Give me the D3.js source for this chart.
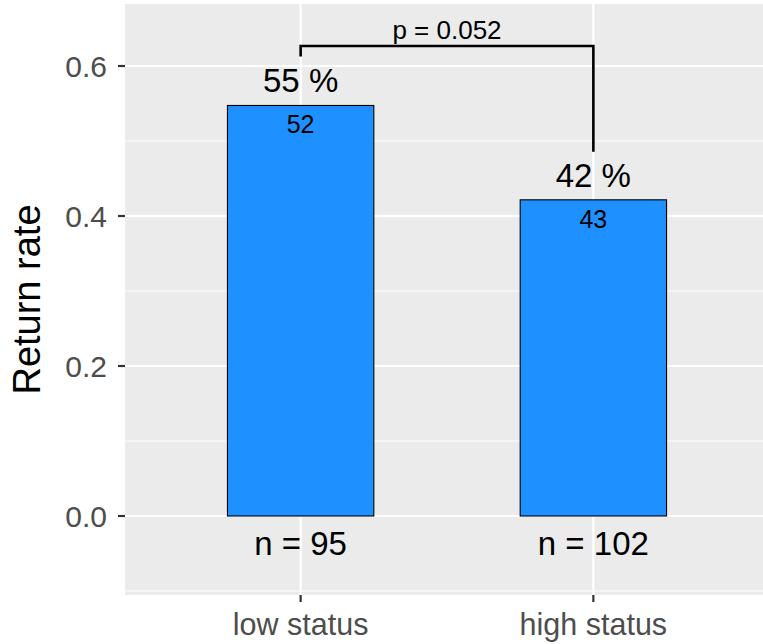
<!DOCTYPE html>
<html>
<head>
<meta charset="utf-8">
<script src="https://cdn.jsdelivr.net/npm/d3@7"></script>
<style>
  html, body { margin: 0; padding: 0; background: #fff; }
  svg { display: block; font-family: "Liberation Sans", Arial, Helvetica, sans-serif; }
</style>
</head>
<body>
<svg id="chart" width="763" height="644"></svg>
<script>
// ---- data ----
const categories = ["low status", "high status"];
const returned = [52, 43];
const totals = [95, 102];
const pValueLabel = "p = 0.052";
const yTicks = [0.0, 0.2, 0.4, 0.6];
const yMinorTicks = [-0.1, 0.1, 0.3, 0.5];
const yTitle = "Return rate";

const rates = returned.map((r, i) => r / totals[i]);

// ---- layout ----
const W = 763, H = 644;
const panel = { left: 125, right: 769, top: 4, bottom: 595 };

const svg = d3.select("#chart");

const x = d3.scalePoint().domain(categories).range([panel.left, panel.right]).padding(0.6);
const step = x.step();
const barW = step * 0.5;

const y = d3.scaleLinear().domain([0, 0.6]).range([516, 66]);

// panel background
svg.append("rect")
  .attr("x", panel.left).attr("y", panel.top)
  .attr("width", panel.right - panel.left).attr("height", panel.bottom - panel.top)
  .attr("fill", "#EBEBEB");

const grid = svg.append("g");
// minor gridlines
grid.selectAll("line.minor").data(yMinorTicks).join("line")
  .attr("x1", panel.left).attr("x2", panel.right)
  .attr("y1", d => y(d)).attr("y2", d => y(d))
  .attr("stroke", "#fff").attr("stroke-width", 1.1);
// major gridlines
grid.selectAll("line.major").data(yTicks).join("line")
  .attr("x1", panel.left).attr("x2", panel.right)
  .attr("y1", d => y(d)).attr("y2", d => y(d))
  .attr("stroke", "#fff").attr("stroke-width", 2.2);
grid.selectAll("line.vx").data(categories).join("line")
  .attr("x1", d => x(d)).attr("x2", d => x(d))
  .attr("y1", panel.top).attr("y2", panel.bottom)
  .attr("stroke", "#fff").attr("stroke-width", 2.2);

// bars
svg.selectAll("rect.bar").data(categories).join("rect")
  .attr("class", "bar")
  .attr("x", d => x(d) - barW / 2)
  .attr("width", barW)
  .attr("y", (d, i) => y(rates[i]))
  .attr("height", (d, i) => y(0) - y(rates[i]))
  .attr("fill", "#1E90FF")
  .attr("stroke", "#000").attr("stroke-width", 1.1);

// percentage labels
svg.selectAll("text.pct").data(categories).join("text")
  .attr("x", d => x(d))
  .attr("y", (d, i) => y(rates[i]) - 13)
  .attr("text-anchor", "middle")
  .attr("font-size", 33)
  .attr("fill", "#000")
  .text((d, i) => Math.round(rates[i] * 100) + " %");

// counts inside bars
svg.selectAll("text.cnt").data(categories).join("text")
  .attr("x", d => x(d))
  .attr("y", (d, i) => y(rates[i]) + 28)
  .attr("text-anchor", "middle")
  .attr("font-size", 25)
  .attr("fill", "#000")
  .text((d, i) => returned[i]);

// n labels
svg.selectAll("text.n").data(categories).join("text")
  .attr("x", d => x(d))
  .attr("y", y(0) + 39)
  .attr("text-anchor", "middle")
  .attr("font-size", 33)
  .attr("fill", "#000")
  .text((d, i) => "n = " + totals[i]);

// significance bracket
const bTop = y(0.6267);
const bracket = d3.path();
bracket.moveTo(x(categories[0]), y(rates[0]) - 49);
bracket.lineTo(x(categories[0]), bTop);
bracket.lineTo(x(categories[1]), bTop);
bracket.lineTo(x(categories[1]), y(rates[1]) - 48);
svg.append("path").attr("d", bracket.toString())
  .attr("fill", "none").attr("stroke", "#000").attr("stroke-width", 2.6);
svg.append("text")
  .attr("x", (x(categories[0]) + x(categories[1])) / 2)
  .attr("y", bTop - 7)
  .attr("text-anchor", "middle")
  .attr("font-size", 26)
  .attr("fill", "#000")
  .text(pValueLabel);

// y axis
const yAxis = svg.append("g");
yAxis.selectAll("line").data(yTicks).join("line")
  .attr("x1", panel.left - 7).attr("x2", panel.left)
  .attr("y1", d => y(d)).attr("y2", d => y(d))
  .attr("stroke", "#333").attr("stroke-width", 2.2);
yAxis.selectAll("text").data(yTicks).join("text")
  .attr("x", panel.left - 18)
  .attr("y", d => y(d))
  .attr("dy", "0.36em")
  .attr("text-anchor", "end")
  .attr("font-size", 30)
  .attr("fill", "#4D4D4D")
  .text(d => d3.format(".1f")(d));

// x axis
const xAxis = svg.append("g");
xAxis.selectAll("line").data(categories).join("line")
  .attr("x1", d => x(d)).attr("x2", d => x(d))
  .attr("y1", panel.bottom).attr("y2", panel.bottom + 7)
  .attr("stroke", "#333").attr("stroke-width", 2.2);
xAxis.selectAll("text").data(categories).join("text")
  .attr("x", d => x(d))
  .attr("y", 635)
  .attr("text-anchor", "middle")
  .attr("font-size", 30.5)
  .attr("fill", "#4D4D4D")
  .text(d => d);

// y title
svg.append("text")
  .attr("transform", `translate(40, ${(panel.top + panel.bottom) / 2}) rotate(-90)`)
  .attr("text-anchor", "middle")
  .attr("font-size", 38)
  .attr("fill", "#000")
  .text(yTitle);
</script>
</body>
</html>
